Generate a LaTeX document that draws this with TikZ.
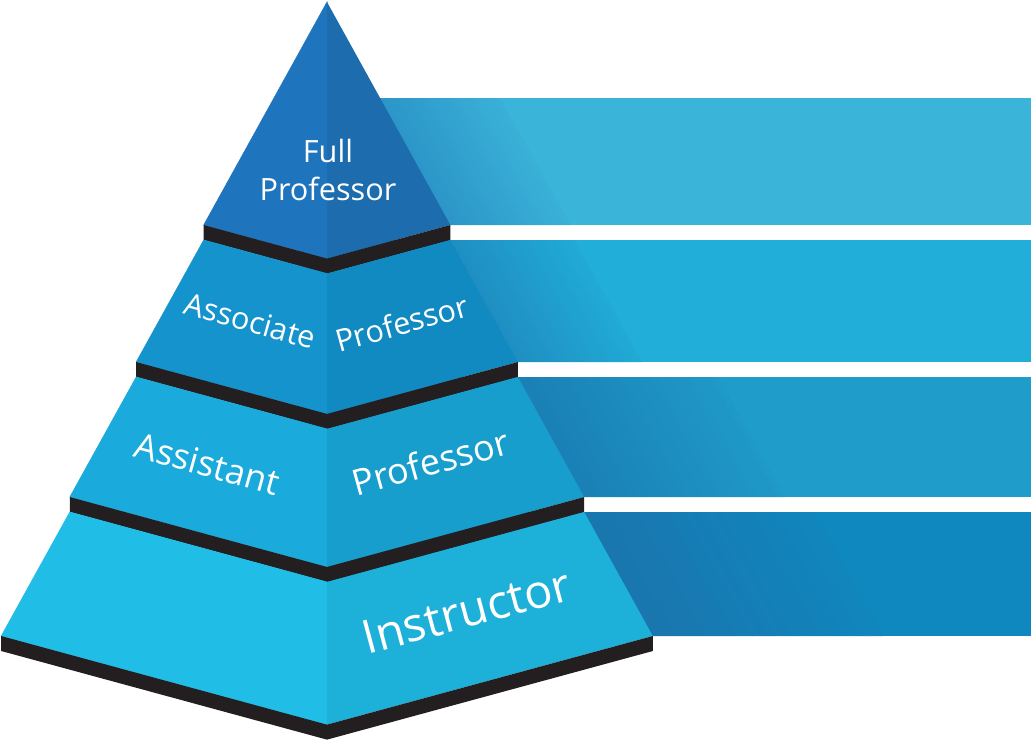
\documentclass[tikz,border=0pt]{standalone}
\usepackage{fontspec}
\setmainfont{Open Sans}
\definecolor{bandc}{HTML}{231F20}
\definecolor{tOneL}{HTML}{1F75BD}
\definecolor{tOneR}{HTML}{1C6CAE}
\definecolor{tTwoL}{HTML}{1493CD}
\definecolor{tTwoR}{HTML}{118AC2}
\definecolor{tThreeL}{HTML}{1AAADC}
\definecolor{tThreeR}{HTML}{179ECD}
\definecolor{tFourL}{HTML}{20BDE7}
\definecolor{tFourR}{HTML}{1DB0D9}
\definecolor{barOne}{HTML}{3BB4DA}
\definecolor{barTwo}{HTML}{21AED8}
\definecolor{barThree}{HTML}{1F9CCA}
\definecolor{barFour}{HTML}{0F88BF}
\definecolor{shOne}{HTML}{2C96C8}
\definecolor{shTwo}{HTML}{1F8FC2}
\definecolor{shThree}{HTML}{1A80B6}
\definecolor{shFour}{HTML}{1A76AE}
% #1 top, #2 bottom, #3 tier index, #4 width, #5 shadow, #6 main
\newcommand\barshadow[6]{%
  \foreach \j in {0,...,29}{%
    \pgfmathsetmacro\s{\j==0 ? -30 : \j*#4/30}%
    \pgfmathsetmacro\e{(\j+1)*#4/30+0.4}%
    \pgfmathtruncatemacro\p{\j*88/29}%
    \fill[#6!\p!#5] ({327+0.553*(#1-2-15*(#3-1))+\s},#1) -- ({327+0.553*(#1-2-15*(#3-1))+\e},#1) -- ({327+0.553*(#2-2-15*(#3-1))+\e},#2) -- ({327+0.553*(#2-2-15*(#3-1))+\s},#2) -- cycle;
  }}
% #1 ytop, #2 htop, #3 ybot, #4 hbot, #5 left colour, #6 right colour
\newcommand\tierfaces[6]{%
  \fill[#5, draw=#5, line width=0.4pt] ({327-#2},#1) -- (327,{#1+0.272*#2}) -- (327,{#3+0.272*#4}) -- ({327-#4},#3) -- cycle;
  \fill[#6] ({327+#2},#1) -- (327,{#1+0.272*#2}) -- (327,{#3+0.272*#4}) -- ({327+#4},#3) -- cycle;
}
\newcommand\tierband[2]{%
  \fill[bandc] ({327-#2},#1) -- (327,{#1+0.272*#2}) -- ({327+#2},#1) -- ({327+#2},{#1+15}) -- (327,{#1+15+0.272*#2}) -- ({327-#2},{#1+15}) -- cycle;
}
\tikzset{lbl/.style={text=white, inner sep=0pt, anchor=base}}
\begin{document}
\begin{tikzpicture}[x=0.75pt,y=-0.75pt]
\useasboundingbox (0,0) rectangle (1031,744);
% bars
\fill[barOne] (300,98) rectangle (1031,225);
\fill[barTwo] (300,240) rectangle (1031,362);
\fill[barThree] (300,377) rectangle (1031,497);
\fill[barFour] (300,512) rectangle (1031,636);
\barshadow{98}{225}{1}{120}{shOne}{barOne}
\barshadow{240}{362}{2}{124}{shTwo}{barTwo}
\barshadow{377}{497}{3}{200}{shThree}{barThree}
\barshadow{512}{636}{4}{230}{shFour}{barFour}
% pyramid
\tierfaces{2}{0}{225}{123.3}{tOneL}{tOneR}
\tierband{225}{123.3}
\tierfaces{240}{123.3}{362}{190.8}{tTwoL}{tTwoR}
\tierband{362}{190.8}
\tierfaces{377}{190.8}{497}{257.2}{tThreeL}{tThreeR}
\tierband{497}{257.2}
\tierfaces{512}{257.2}{636}{325.8}{tFourL}{tFourR}
\tierband{636}{325.8}
% labels
\node[lbl, font=\fontsize{23}{23}\selectfont] (full) at (328,162) {Full};
\node[lbl, font=\fontsize{23}{23}\selectfont] (fullprof) at (328,200) {Professor};
\node[lbl, font=\fontsize{23}{23}\selectfont, rotate=-15.5] (assoc) at (247.5,331.5) {Associate};
\node[lbl, font=\fontsize{23}{23}\selectfont, rotate=15.5] (assocprof) at (405,334) {Professor};
\node[lbl, font=\fontsize{26.5}{26.5}\selectfont, rotate=-15.5] (assist) at (204,476) {Assistant};
\node[lbl, font=\fontsize{27}{27}\selectfont, rotate=15.5] (assistprof) at (434,475) {Professor};
\node[lbl, font=\fontsize{35}{35}\selectfont, rotate=15] (instr) at (471,627) {Instructor};
\end{tikzpicture}
\end{document}
